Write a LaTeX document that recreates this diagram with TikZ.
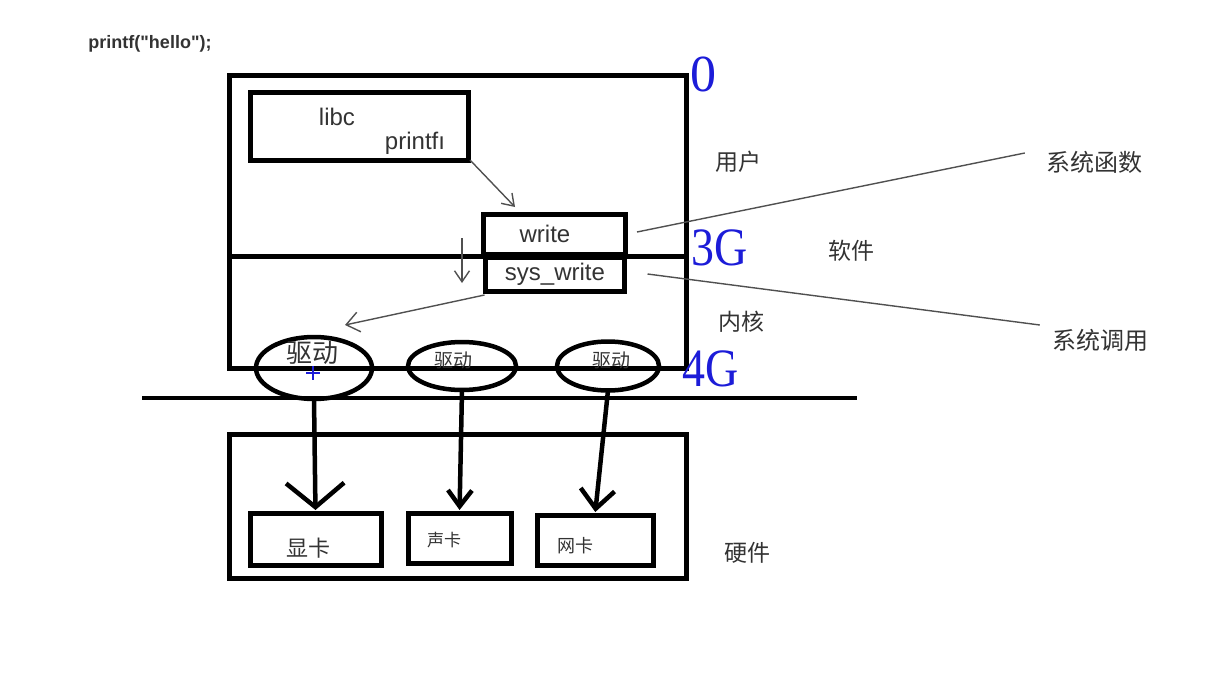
\documentclass[tikz,border=0pt]{standalone}
\usepackage{fontspec}
\setmainfont{Liberation Sans}
\newfontfamily\codefont[Ligatures=ResetAll]{Liberation Sans}
\newfontfamily\cjk{Noto Sans CJK SC}
\newfontfamily\numfont{Liberation Serif}
\usetikzlibrary{arrows.meta,shapes.geometric}
\definecolor{txtgray}{HTML}{333333}
\definecolor{linegray}{HTML}{505050}
\definecolor{memblue}{HTML}{1C1CD8}
\tikzset{
  box/.style={draw, line width=5pt, inner sep=0pt, outer sep=0pt, text=txtgray,
    font=\fontsize{24}{24}\selectfont},
  drv/.style={draw, ellipse, line width=4.5pt, inner sep=0pt, outer sep=0pt},
  lbl/.style={text=txtgray, inner sep=0pt, font=\cjk\fontsize{23}{23}\selectfont},
  addr/.style={text=memblue, inner sep=0pt, font=\numfont\fontsize{54}{54}\selectfont},
  leader/.style={draw=linegray, line width=1.4pt},
  call/.style={leader, -{Straight Barb[length=11pt,width=15pt]}},
  io/.style={line width=4.5pt, shorten >=3pt},
}
\begin{document}
\begin{tikzpicture}[x=1pt, y=-1pt]
  \useasboundingbox (0,0) rectangle (1213,688);
  % printf 调用
  \node[text=txtgray, inner sep=0pt, font=\codefont\fontsize{18}{18}\selectfont\bfseries] (code) at (150,44) {printf("hello");};
  % 用户空间 + 内核空间
  \node[box, minimum width=457pt, minimum height=293pt] (space) at (457.5,221.5) {};
  \draw[line width=5pt] (229,256) -- (686,256);
  \node[box, minimum width=218pt, minimum height=68pt] (libc) at (359,126) {};
  \node[box, draw=none] (libcname) at (337,117) {libc};
  \node[box, draw=none] (printf) at (415,143) {printfı};
  \node[box, minimum width=142pt, minimum height=40pt] (write) at (554,234) {\hspace{-18pt}write};
  \node[box, minimum width=139pt, minimum height=34pt] (syswrite) at (555,274) {sys\_write};
  % 驱动
  \node[drv, minimum width=116pt, minimum height=62pt] (drv1) at (314,368) {};
  \node[drv, minimum width=108pt, minimum height=48pt] (drv2) at (462,366) {};
  \node[drv, minimum width=102pt, minimum height=49pt] (drv3) at (608,366) {};
  \node[lbl, font=\cjk\fontsize{26}{26}\selectfont] (drvname1) at (312,353) {驱动};
  \node[lbl, font=\cjk\fontsize{19}{19}\selectfont] (drvname2) at (453,360) {驱动};
  \node[lbl, font=\cjk\fontsize{19}{19}\selectfont] (drvname3) at (611,360) {驱动};
  \draw[memblue, line width=2.5pt] (306,373) -- (320,373) (313,366) -- (313,380);
  % 总线
  \draw[line width=4pt] (142,398) -- (857,398);
  % 硬件
  \node[box, minimum width=457pt, minimum height=144pt] (hw) at (457.5,506) {};
  \node[box, minimum width=131pt, minimum height=52pt] (card1) at (315.5,539) {};
  \node[box, minimum width=103pt, minimum height=50pt] (card2) at (459.5,538) {};
  \node[box, minimum width=116pt, minimum height=50pt] (card3) at (595,540) {};
  \node[lbl, font=\cjk\fontsize{22}{22}\selectfont] (cardname1) at (308,548) {显卡};
  \node[lbl, font=\cjk\fontsize{17}{17}\selectfont] (cardname2) at (444,540) {声卡};
  \node[lbl, font=\cjk\fontsize{18}{18}\selectfont] (cardname3) at (575,546) {网卡};
  % 调用过程
  \coordinate (down1) at (462,238);
  \coordinate (down2) at (462,283);
  \draw[call] ([xshift=2pt]libc.south east) -- ([xshift=-39pt,yshift=7pt]write.north);
  \draw[call] (down1) -- (down2);
  \draw[call, -{Straight Barb[length=13pt,width=20pt]}] ([xshift=-1pt,yshift=-4pt]syswrite.south west) -- ([xshift=31pt,yshift=12pt]drv1.north);
  \draw[io, -{Straight Barb[length=24pt,width=58pt]}] (drv1.south) -- (card1.north);
  \draw[io, -{Straight Barb[length=16pt,width=24pt]}] (drv2.south) -- (card2.north);
  \draw[io, -{Straight Barb[length=19pt,width=34pt]}] (drv3.south) -- (card3.north);
  % 地址
  \node[addr, font=\numfont\fontsize{52}{52}\selectfont] (addr0) at (703,74) {0};
  \node[addr, xscale=0.85, transform shape] (addr3) at (720,248) {3G};
  \node[addr, xscale=0.85, transform shape] (addr4) at (711,369) {4G};
  % 说明
  \node[lbl] (user) at (738,162) {用户};
  \node[lbl] (soft) at (851,251) {软件};
  \node[lbl] (kernel) at (741,322) {内核};
  \node[lbl] (hard) at (747,553) {硬件};
  \node[lbl, font=\cjk\fontsize{24}{24}\selectfont] (sysfn) at (1094,162) {系统函数};
  \node[lbl, font=\cjk\fontsize{24}{24}\selectfont] (syscall) at (1100,340) {系统调用};
  \draw[leader] ([xshift=12pt,yshift=2pt]write.east) -- ([xshift=-21pt,yshift=9pt]sysfn.west);
  \draw[leader] ([xshift=23pt]syswrite.east) -- ([xshift=-12pt,yshift=15pt]syscall.west);
\end{tikzpicture}
\end{document}
